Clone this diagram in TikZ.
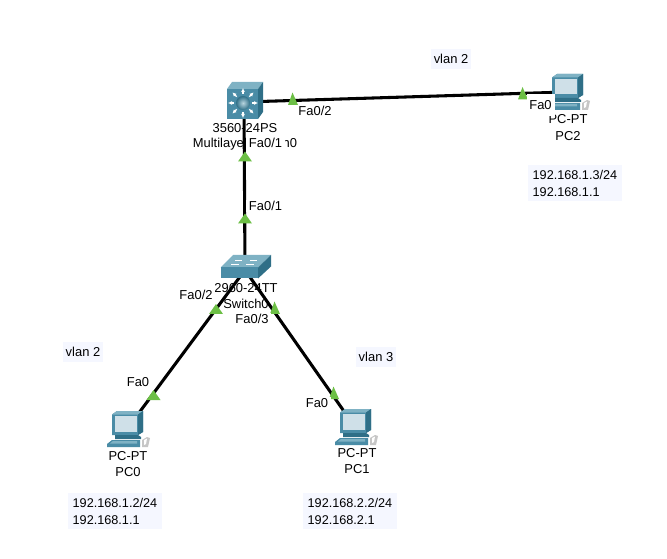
\documentclass[tikz,border=0pt]{standalone}
\usepackage{fontspec}
\setmainfont{Liberation Sans}
\usetikzlibrary{arrows.meta}
\definecolor{teal1}{HTML}{4A8CA6}
\definecolor{teal2}{HTML}{2F6F87}
\definecolor{teal3}{HTML}{7FB2C4}
\definecolor{screenc}{HTML}{CFE0E8}
\definecolor{linkg}{HTML}{6CBF45}
\definecolor{notebg}{HTML}{F5F7FF}
\tikzset{
  x=0.75pt,y=-0.75pt,
  dev/.style={inner sep=0,minimum size=20pt},
  txt/.style={font=\fontsize{9.7pt}{11pt}\selectfont,inner sep=0,text=black,align=center},
  port/.style={txt,fill=white,inner xsep=2pt,inner ysep=1pt},
  note/.style={txt,fill=notebg,align=left,text width=63.5pt,inner xsep=3.5pt,inner ysep=3.5pt,font=\fontsize{9.5pt}{12.75pt}\selectfont},
  vlan/.style={txt,fill=notebg,inner xsep=2pt,inner ysep=4pt},
  wire/.style={draw=black,line width=2.3pt},
  lamp/.pic={\fill[linkg] (-7,4.5) -- (0,-5.5) -- (7,4.5) -- cycle;},
  lampsm/.pic={\fill[linkg] (-5,6) -- (-0.5,-6.5) -- (5,6) -- cycle;},
  pcicon/.pic={
    \fill[teal1] (-15,-14.5) -- (-10,-18) -- (16,-18) -- (16,3) -- (11,6) -- (-15,6) -- cycle;
    \fill[teal3] (-15,-14.5) -- (-10,-18) -- (16,-18) -- (11,-14.5) -- cycle;
    \fill[teal2] (11,-14.5) -- (16,-18) -- (16,3) -- (11,6) -- cycle;
    \fill[screenc] (-12,-13) -- (10,-13) -- (10,2.5) -- (-12,2.5) -- cycle;
    \fill[teal2] (-12,6) -- (11,6) -- (14,8) -- (14,10) -- (-12,10) -- cycle;
    \fill[teal1] (-20,15) -- (-15,11) -- (13,11) -- (13,18) -- (-20,18) -- cycle;
    \fill[teal3] (-17,14.5) -- (-14,12) -- (10,12) -- (10,14.5) -- cycle;
    \fill[gray!45] (15,11) -- (20,8) -- (23,9) -- (21,18) -- (15,18) -- cycle;
    \fill[white] (17,11) -- (20,9.5) -- (19,15) -- (17,16) -- cycle;
  },
  mlsicon/.pic={
    \fill[teal3] (-17,-13) -- (-12,-20) -- (19,-20) -- (14,-13) -- cycle;
    \fill[teal2] (14,-13) -- (19,-20) -- (19,10) -- (14,17) -- cycle;
    \fill[teal1] (-17,-13) rectangle (14,17);
    \shade[inner color=teal3!55!white,outer color=teal2] (-1,1) circle (7);
    \foreach \a in {0,45,...,315}{
      \draw[white,line width=1pt,-{Latex[length=3pt,width=3pt]},shift={(-1,1)}] (\a:9) -- (\a:15);
    }
  },
  swicon/.pic={
    \fill[teal3] (-24.5,-2.5) -- (-12,-15) -- (26,-15) -- (13,-2.5) -- cycle;
    \fill[teal1] (-24.5,-2.5) rectangle (13,8.5);
    \fill[teal2] (13,-2.5) -- (26,-15) -- (26,-3.5) -- (13,8.5) -- cycle;
    \draw[white,line width=.6pt] (-10,-10) -- (-3,-10) (5,-10) -- (12,-10) (-14,-6) -- (-6,-6) (1,-6) -- (9,-6);
  }
}
\begin{document}
\begin{tikzpicture}
\useasboundingbox (0,0) rectangle (667,559);
% device anchors
\node[dev] (ms) at (244,102) {};
\node[dev] (sw) at (245,270) {};
\node[dev] (pc0) at (127,429) {};
\node[dev] (pc1) at (355,427) {};
\node[dev] (pc2) at (567,92) {};
% device labels
\node[txt] (msa) at (245,128) {3560-24PS};
\node[txt] (msb) at (245,144) {Multilayer Switch0};
\node[txt] (swa) at (246,288) {2960-24TT};
\node[txt] (swb) at (246,304) {Switch0};
\node[txt] (pc0a) at (128,456) {PC-PT};
\node[txt] (pc0b) at (128,472) {PC0};
\node[txt] (pc1a) at (357,453) {PC-PT};
\node[txt] (pc1b) at (357,469) {PC1};
\node[txt] (pc2a) at (568,119) {PC-PT};
\node[txt] (pc2b) at (568,136) {PC2};
% links
\draw[wire] (ms.center) -- (sw.center);
\draw[wire] (ms.center) -- (pc2.center);
\draw[wire] (sw.center) -- (pc0.center);
\draw[wire] (sw.center) -- (pc1.center);
% link lights
\pic at (245,157) {lamp};
\pic at (245,219) {lamp};
\pic at (293,99) {lampsm};
\pic at (523,93.5) {lampsm};
\pic at (216,309.5) {lamp};
\pic at (275,308) {lampsm};
\pic at (153.5,395.5) {lamp};
\pic at (334,393) {lampsm};
% icons
\pic at (ms) {mlsicon};
\pic at (sw) {swicon};
\pic at (pc0) {pcicon};
\pic at (pc1) {pcicon};
\pic at (pc2) {pcicon};
% port labels
\node[port] (p1) at (265.5,143) {Fa0/1};
\node[port] (p2) at (265.5,206) {Fa0/1};
\node[port] (p3) at (315,111) {Fa0/2};
\node[port,minimum width=21pt,minimum height=17pt] (p4) at (540.5,105) {Fa0};
\node[port] (p5) at (196,295) {Fa0/2};
\node[port] (p6) at (252,319) {Fa0/3};
\node[port] (p7) at (138,382) {Fa0};
\node[port] (p8) at (317,403) {Fa0};
% notes
\node[vlan] (v1) at (451,59) {vlan 2};
\node[vlan] (v2) at (83,352) {vlan 2};
\node[vlan] (v3) at (376,357) {vlan 3};
\node[note] (n2) at (575,183) {192.168.1.3/24\\192.168.1.1};
\node[note] (n0) at (115,511) {192.168.1.2/24\\192.168.1.1};
\node[note] (n1) at (350,511) {192.168.2.2/24\\192.168.2.1};
\end{tikzpicture}
\end{document}
